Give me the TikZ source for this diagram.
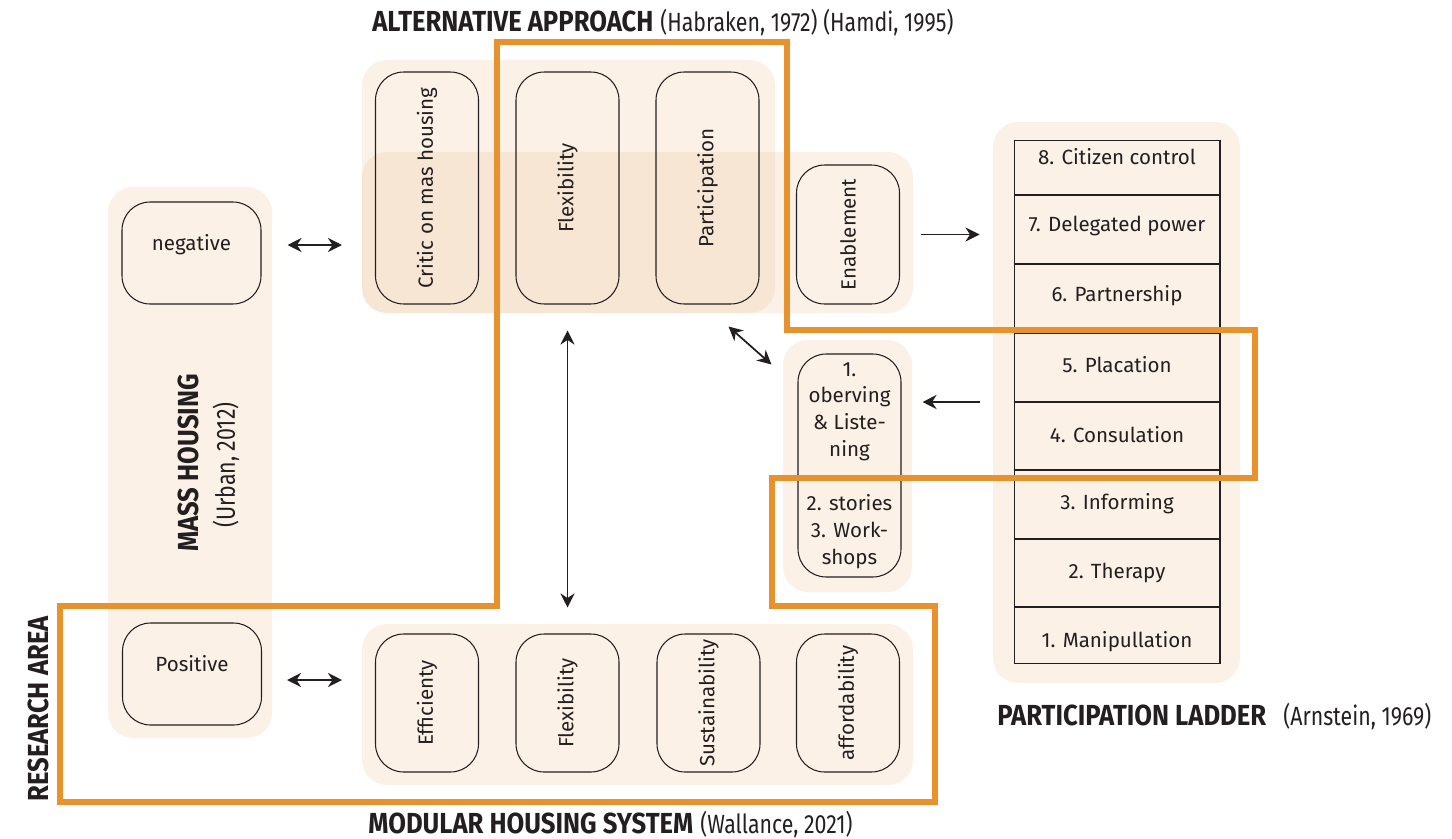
\documentclass[tikz,border=0pt]{standalone}
\usepackage{fontspec}
\setmainfont{Fira Sans}
\usetikzlibrary{arrows.meta}

\definecolor{tan}{RGB}{236,190,143}
\definecolor{rorange}{RGB}{232,146,46}
\definecolor{ink}{RGB}{35,31,32}

\newcommand{\hd}[1]{\scalebox{0.885}[1]{\fontsize{16.5}{18}\selectfont\bfseries #1}}
\newcommand{\rf}[1]{\scalebox{0.81}[1]{\fontsize{15}{18}\selectfont #1}}

\tikzset{
  panel/.style={fill=tan, fill opacity=0.21, rounded corners=0.5cm},
  item/.style={draw=ink, line width=0.6pt, rounded corners=0.56cm, align=center,
    inner sep=0pt, text=ink, font=\fontsize{11.7}{15.3}\selectfont},
  wide/.style={item, minimum width=2.78cm, minimum height=2.04cm,
    text height=8pt, text depth=11pt},
  tall/.style={item, minimum width=2.06cm, minimum height=#1},
  rungtext/.style={inner sep=0pt, text=ink, font=\fontsize{11.7}{13}\selectfont},
  title/.style={inner sep=0pt, text=ink},
  link/.style={{Stealth[length=8pt,width=8pt]}-{Stealth[length=8pt,width=8pt]}, line width=1pt, ink},
  onelink/.style={-{Stealth[length=8pt,width=8pt]}, line width=1pt, ink},
  area/.style={draw=rorange, line width=0.12cm},
}

\begin{document}
\begin{tikzpicture}[x=0.02cm, y=-0.02cm]
  \useasboundingbox (0,0) rectangle (1452,838);
  %\draw[very thin,gray,step=50] (0,0) grid (1452,838);

  % panels
  \fill[panel] (108,187) rectangle (272,738);
  \fill[panel] (362,60) rectangle (775,313);
  \fill[panel] (362,152) rectangle (913,313);
  \fill[panel] (783,340) rectangle (912,592);
  \fill[panel] (362,624) rectangle (913,785);
  \fill[panel] (993,122) rectangle (1240,683);

  % mass housing
  \node[wide] (neg) at (191.5,253) {negative};
  \node[wide] (pos) at (192,674) {Positive};

  % alternative approach
  \node[tall=4.64cm] (critic) at (427,188) {\rotatebox{90}{Critic on mas housing}};
  \node[tall=4.64cm] (flexa) at (567.5,188) {\rotatebox{90}{Flexibility}};
  \node[tall=4.64cm] (partic) at (707.5,188) {\rotatebox{90}{Participation}};
  \node[tall=2.78cm] (enable) at (848,234.5) {\rotatebox{90}{Enablement}};
  \node[tall=4.46cm] (obs) at (849.5,465.5)
    {1.\\oberving\\\& Liste-\\ning\\[15.3pt]2. stories\\3. Work-\\shops};

  % modular housing
  \node[tall=2.76cm] (eff) at (427,703) {\rotatebox{90}{Efficienty}};
  \node[tall=2.76cm] (flexb) at (567.5,703) {\rotatebox{90}{Flexibility}};
  \node[tall=2.76cm] (sust) at (708.5,703) {\rotatebox{90}{Sustainability}};
  \node[tall=2.76cm] (afford) at (848,703) {\rotatebox{90}{affordability}};

  % ladder
  \node[draw=ink, line width=0.6pt, minimum width=4.12cm, minimum height=10.48cm,
    inner sep=0pt] (ladder) at (1117,402) {};
  \foreach \y in {195,264,333,402,470,539,607}
    \draw[ink, line width=0.6pt] (ladder.west |- 0,\y) -- (ladder.east |- 0,\y);
  \foreach \k/\txt [count=\i] in {8/Citizen control,7/Delegated power,6/Partnership,
      5/Placation,4/Consulation,3/Informing,2/Therapy,1/Manipullation}
    \node[rungtext] (r\k) at (1117,{157+69.3*(\i-1)}) {\k. \txt};

  % arrows
  \draw[link, shorten <=0.52cm, shorten >=0.66cm]
    ([yshift=0.16cm]neg.east) -- ([yshift=0.16cm]neg.east -| critic.west);
  \draw[link, shorten <=0.5cm, shorten >=0.66cm]
    ([yshift=-0.12cm]pos.east) -- ([yshift=-0.12cm]pos.east -| eff.west);
  \draw[link, shorten <=0.52cm, shorten >=0.52cm] (flexa.south) -- (flexb.north);
  \draw[link] ([xshift=-0.62cm,yshift=-0.44cm]partic.south east)
    -- ([xshift=-0.52cm,yshift=-0.22cm]obs.north west);
  \draw[onelink, shorten <=0.42cm, shorten >=0.68cm] (enable.east) -- (enable.east -| ladder.west);
  \draw[onelink, shorten <=0.68cm, shorten >=0.42cm] (ladder.west) -- (ladder.west -| obs.east);

  % research area
  \draw[area] (497,42) -- (787,42) -- (787,330) -- (1255,330) -- (1255,478)
    -- (772,478) -- (772,606) -- (935,606) -- (935,802) -- (60,802)
    -- (60,606) -- (497,606) -- cycle;

  % titles
  \node[title, anchor=base west] (alttitle) at (372,32) {\hd{ALTERNATIVE APPROACH}};
  \node[title, anchor=base west] (altref) at (660,32) {\rf{(Habraken, 1972) (Hamdi, 1995)}};
  \node[title, rotate=90] (masstitle) at (188,463) {\hd{MASS HOUSING}};
  \node[title, rotate=90] (massref) at (226,465) {\rf{(Urban, 2012)}};
  \node[title, rotate=90] (areatitle) at (38,709) {\hd{RESEARCH AREA}};
  \node[title, anchor=base west] (modtitle) at (368,833) {\hd{MODULAR HOUSING SYSTEM}};
  \node[title, anchor=base west] (modref) at (700,833) {\rf{(Wallance, 2021)}};
  \node[title, anchor=base west] (laddertitle) at (997,725) {\hd{PARTICIPATION LADDER}};
  \node[title, anchor=base west] (ladderref) at (1283,725) {\rf{(Arnstein, 1969)}};
\end{tikzpicture}
\end{document}
